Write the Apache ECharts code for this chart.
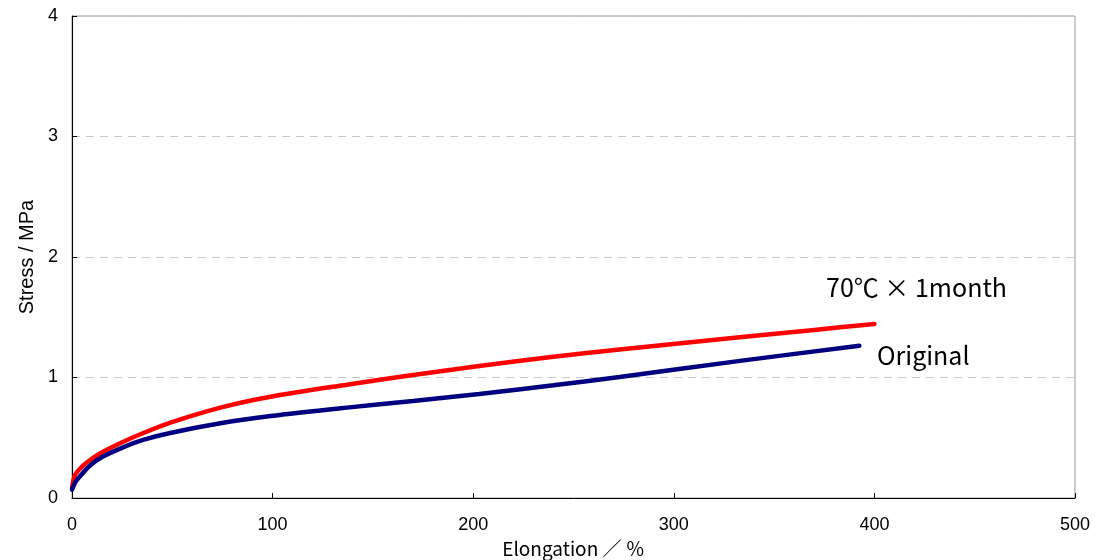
<!DOCTYPE html>
<html>
<head>
<meta charset="utf-8">
<script src="https://cdn.jsdelivr.net/npm/echarts@6/dist/echarts.min.js"></script>
<style>html,body{margin:0;padding:0;background:#fff;}#c{width:1100px;height:560px;}</style>
</head>
<body>
<div id="c"></div>
<script>
// Elongation (%) / Stress (MPa)
const agedX = [0, 1.5, 5, 9, 15, 24, 35, 49, 74, 99, 137, 170, 203, 240, 273, 334, 370, 400];
const agedY = [0.08, 0.19, 0.26, 0.315, 0.38, 0.455, 0.535, 0.625, 0.75, 0.84, 0.94, 1.02, 1.095, 1.172, 1.232, 1.336, 1.395, 1.444];
const origX = [0, 2, 5, 9, 15, 24, 35, 49, 74, 99, 137, 170, 203, 240, 273, 334, 392.5];
const origY = [0.07, 0.14, 0.2, 0.27, 0.34, 0.41, 0.48, 0.54, 0.62, 0.68, 0.75, 0.805, 0.863, 0.935, 1.005, 1.14, 1.264];
const xTicks = [0, 100, 200, 300, 400, 500];
const yTicks = [0, 1, 2, 3, 4];
const agedName = '70℃ × 1month';
const origName = 'Original';

const zip = (a, b) => a.map((v, i) => [v, b[i]]);
const chart = echarts.init(document.getElementById('c'));
chart.setOption({
  animation: false,
  grid: { left: 72, right: 25, top: 16, bottom: 62, show: true, borderColor: '#9a9a9a', borderWidth: 1, outerBoundsMode: 'none', containLabel: false },
  xAxis: {
    type: 'value', min: xTicks[0], max: xTicks[xTicks.length - 1], interval: 100,
    name: 'Elongation ／ ％', nameLocation: 'middle', nameGap: 39,
    nameTextStyle: { fontFamily: 'Noto Sans CJK JP', fontSize: 19, color: '#000' },
    axisLine: { lineStyle: { color: '#000', width: 1 } },
    axisTick: { inside: true, length: 5, lineStyle: { color: '#000' } },
    axisLabel: { fontFamily: 'Liberation Sans', fontSize: 18, color: '#000', margin: 18 },
    splitLine: { show: false }
  },
  yAxis: {
    type: 'value', min: yTicks[0], max: yTicks[yTicks.length - 1], interval: 1,
    name: 'Stress / MPa', nameLocation: 'middle', nameGap: 35,
    nameTextStyle: { fontFamily: 'Liberation Sans', fontSize: 20, color: '#000' },
    axisLine: { show: true, lineStyle: { color: '#000', width: 1 } },
    axisTick: { show: true, inside: true, length: 5, lineStyle: { color: '#000' } },
    axisLabel: { fontFamily: 'Liberation Sans', fontSize: 18, color: '#000', margin: 14 },
    splitLine: { show: true, lineStyle: { color: '#c8c8c8', type: [8, 6], width: 1 } }
  },
  series: [
    {
      name: agedName, type: 'line', smooth: 0.3, showSymbol: false,
      data: zip(agedX, agedY),
      lineStyle: { color: '#ff0000', width: 4.5, cap: 'round' }
    },
    {
      name: origName, type: 'line', smooth: 0.3, showSymbol: false,
      data: zip(origX, origY),
      lineStyle: { color: '#000080', width: 4.5, cap: 'round' }
    }
  ],
  graphic: [
    { type: 'text', left: 826, top: 275, style: { text: agedName, font: '25px "Noto Sans CJK JP"', fill: '#000' } },
    { type: 'text', left: 877, top: 343, style: { text: origName, font: '25px "Noto Sans CJK JP"', fill: '#000' } }
  ]
});
</script>
</body>
</html>
